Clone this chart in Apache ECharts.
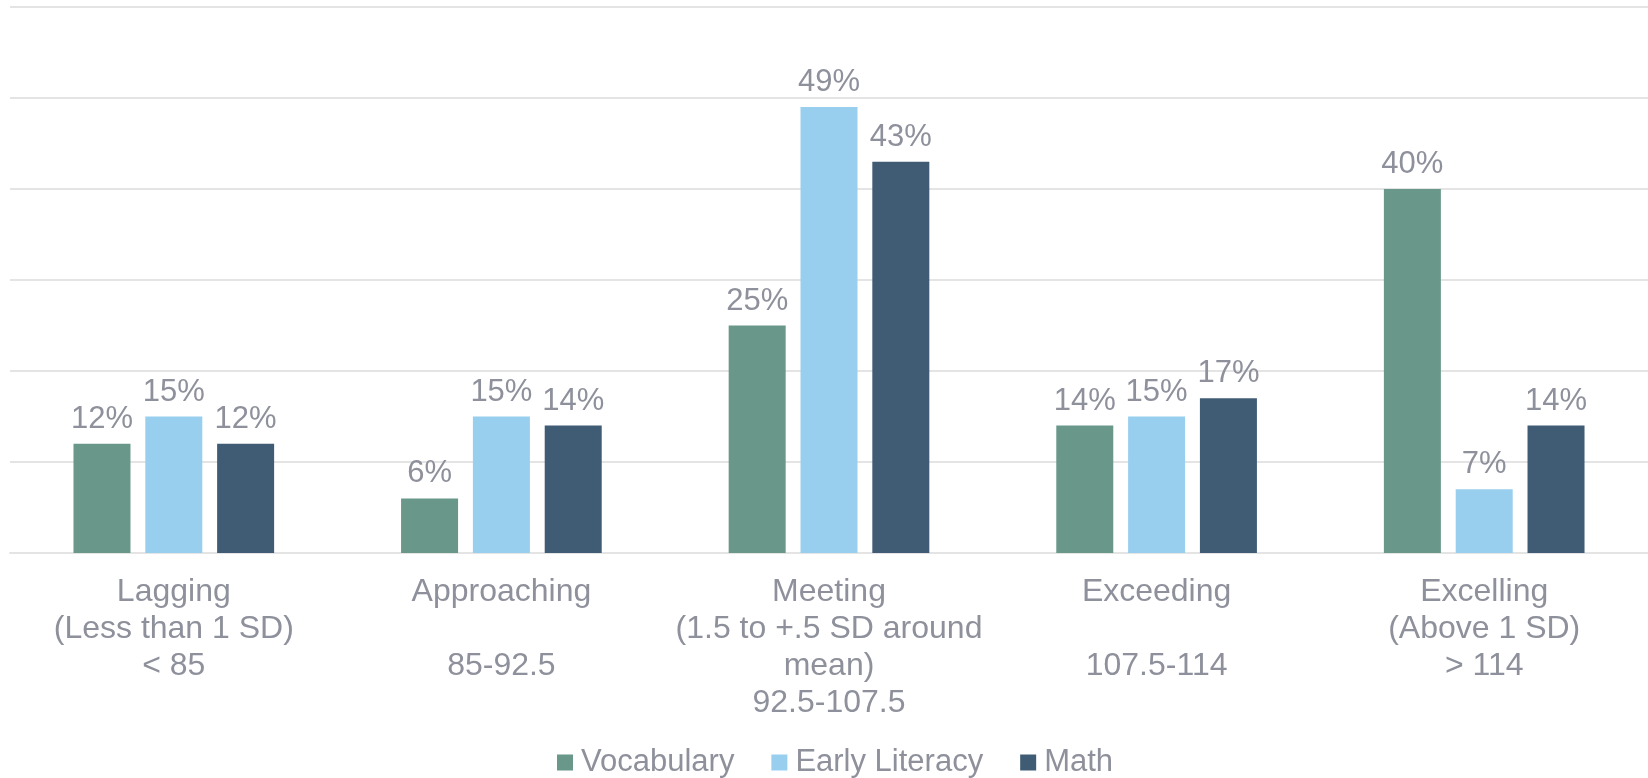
<!DOCTYPE html>
<html>
<head>
<meta charset="utf-8">
<script src="https://cdn.jsdelivr.net/npm/echarts@6/dist/echarts.min.js"></script>
<style>
  html, body { margin: 0; padding: 0; background: #fff; }
  #chart { width: 1648px; height: 778px; }
</style>
</head>
<body>
<div id="chart"></div>
<script>
const categories = [
  'Lagging\n(Less than 1 SD)\n< 85',
  'Approaching\n\n85-92.5',
  'Meeting\n(1.5 to +.5 SD around\nmean)\n92.5-107.5',
  'Exceeding\n\n107.5-114',
  'Excelling\n(Above 1 SD)\n> 114'
]
const vocabulary = [12, 6, 25, 14, 40]
const earlyLiteracy = [15, 15, 49, 15, 7]
const math = [12, 14, 43, 17, 14]

const textColor = '#8e909b'
const gridColor = '#e4e4e4'

const chart = echarts.init(document.getElementById('chart'), null, { renderer: 'canvas' })

const barSeries = (name, data, color) => ({
  name,
  type: 'bar',
  data,
  barWidth: 57,
  barGap: '26%',
  itemStyle: { color },
  label: {
    show: true,
    position: 'top',
    distance: 9,
    formatter: '{c}%',
    color: textColor,
    fontSize: 31,
    fontFamily: 'Liberation Sans, Arial, sans-serif'
  }
})

chart.setOption({
  animation: false,
  textStyle: { fontFamily: 'Liberation Sans, Arial, sans-serif' },
  grid: { left: 10, right: 0, top: 7, height: 546, containLabel: false },
  legend: {
    left: 552,
    top: 742,
    icon: 'rect',
    itemWidth: 16,
    itemHeight: 16,
    itemGap: 37,
    textStyle: { color: textColor, fontSize: 31, padding: [0, 0, 0, 3] },
    data: ['Vocabulary', 'Early Literacy', 'Math']
  },
  xAxis: {
    type: 'category',
    data: categories,
    axisTick: { show: false },
    axisLine: { lineStyle: { color: gridColor, width: 2 } },
    axisLabel: {
      color: textColor,
      fontSize: 32,
      lineHeight: 37,
      margin: 21,
      interval: 0
    }
  },
  yAxis: {
    type: 'value',
    min: 0,
    max: 60,
    interval: 10,
    axisLabel: { show: false },
    axisLine: { show: false },
    axisTick: { show: false },
    splitLine: { lineStyle: { color: gridColor, width: 2 } }
  },
  series: [
    barSeries('Vocabulary', vocabulary, '#69978a'),
    barSeries('Early Literacy', earlyLiteracy, '#98cfef'),
    barSeries('Math', math, '#3f5c74')
  ]
})

window.addEventListener('resize', () => {
  chart.resize()
})
</script>
</body>
</html>
